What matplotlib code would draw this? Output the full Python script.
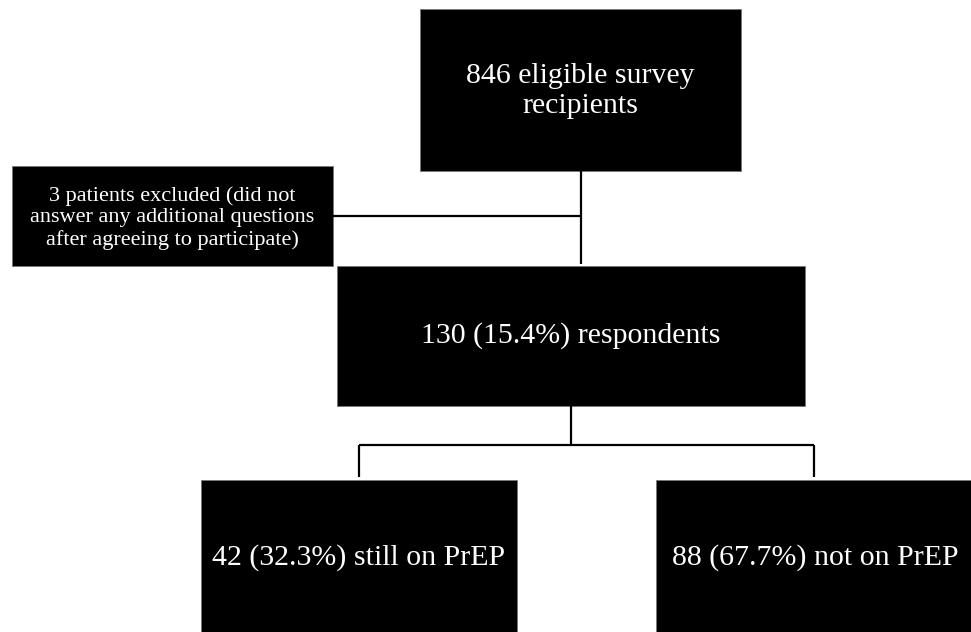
import matplotlib
matplotlib.use("Agg")
import matplotlib.pyplot as plt
from matplotlib.patches import Rectangle

# ---- content ----
labels = [
    "846 eligible survey\nrecipients",
    "3 patients excluded (did not\nanswer any additional questions\nafter agreeing to participate)",
    "130 (15.4%) respondents",
    "42 (32.3%) still on PrEP",
    "88 (67.7%) not on PrEP",
]

# ---- layout (pixel coordinates, y downward) ----
boxes = [  # x0, y0, x1, y1
    (420, 9, 741, 171),
    (12, 166, 333, 266),
    (337, 266, 805, 406),
    (201, 480, 517, 640),
    (656, 480, 975, 640),
]
text_y = [91, 218, 336, 558, 558]
font_sizes = [21.5, 16, 21.5, 21.5, 21.5]

W, H = 971, 632
fig = plt.figure(figsize=(W / 100, H / 100), dpi=100)
ax = fig.add_axes([0, 0, 1, 1])
ax.set_xlim(0, W)
ax.set_ylim(H, 0)
ax.axis("off")

font = "Liberation Serif"

for (x0, y0, x1, y1), lab, ty, fs in zip(boxes, labels, text_y, font_sizes):
    ax.add_patch(Rectangle((x0, y0), x1 - x0, y1 - y0, facecolor="black",
                           edgecolor="#777777", linewidth=0.6))
    ax.text((x0 + x1) / 2, ty, lab, color="white", fontsize=fs, family=font,
            ha="center", va="center", linespacing=1.18)

lw = 1.6
# connector from top box to middle box
ax.plot([581, 581], [171, 264], color="black", lw=lw, solid_capstyle="butt")
# branch to excluded box
ax.plot([333, 581], [216, 216], color="black", lw=lw, solid_capstyle="butt")
# middle box down to split
ax.plot([571, 571], [406, 445], color="black", lw=lw, solid_capstyle="butt")
ax.plot([359, 814], [445, 445], color="black", lw=lw, solid_capstyle="butt")
ax.plot([359, 359], [445, 477], color="black", lw=lw, solid_capstyle="butt")
ax.plot([814, 814], [445, 477], color="black", lw=lw, solid_capstyle="butt")

fig.savefig("out.png", dpi=100, facecolor="white")
